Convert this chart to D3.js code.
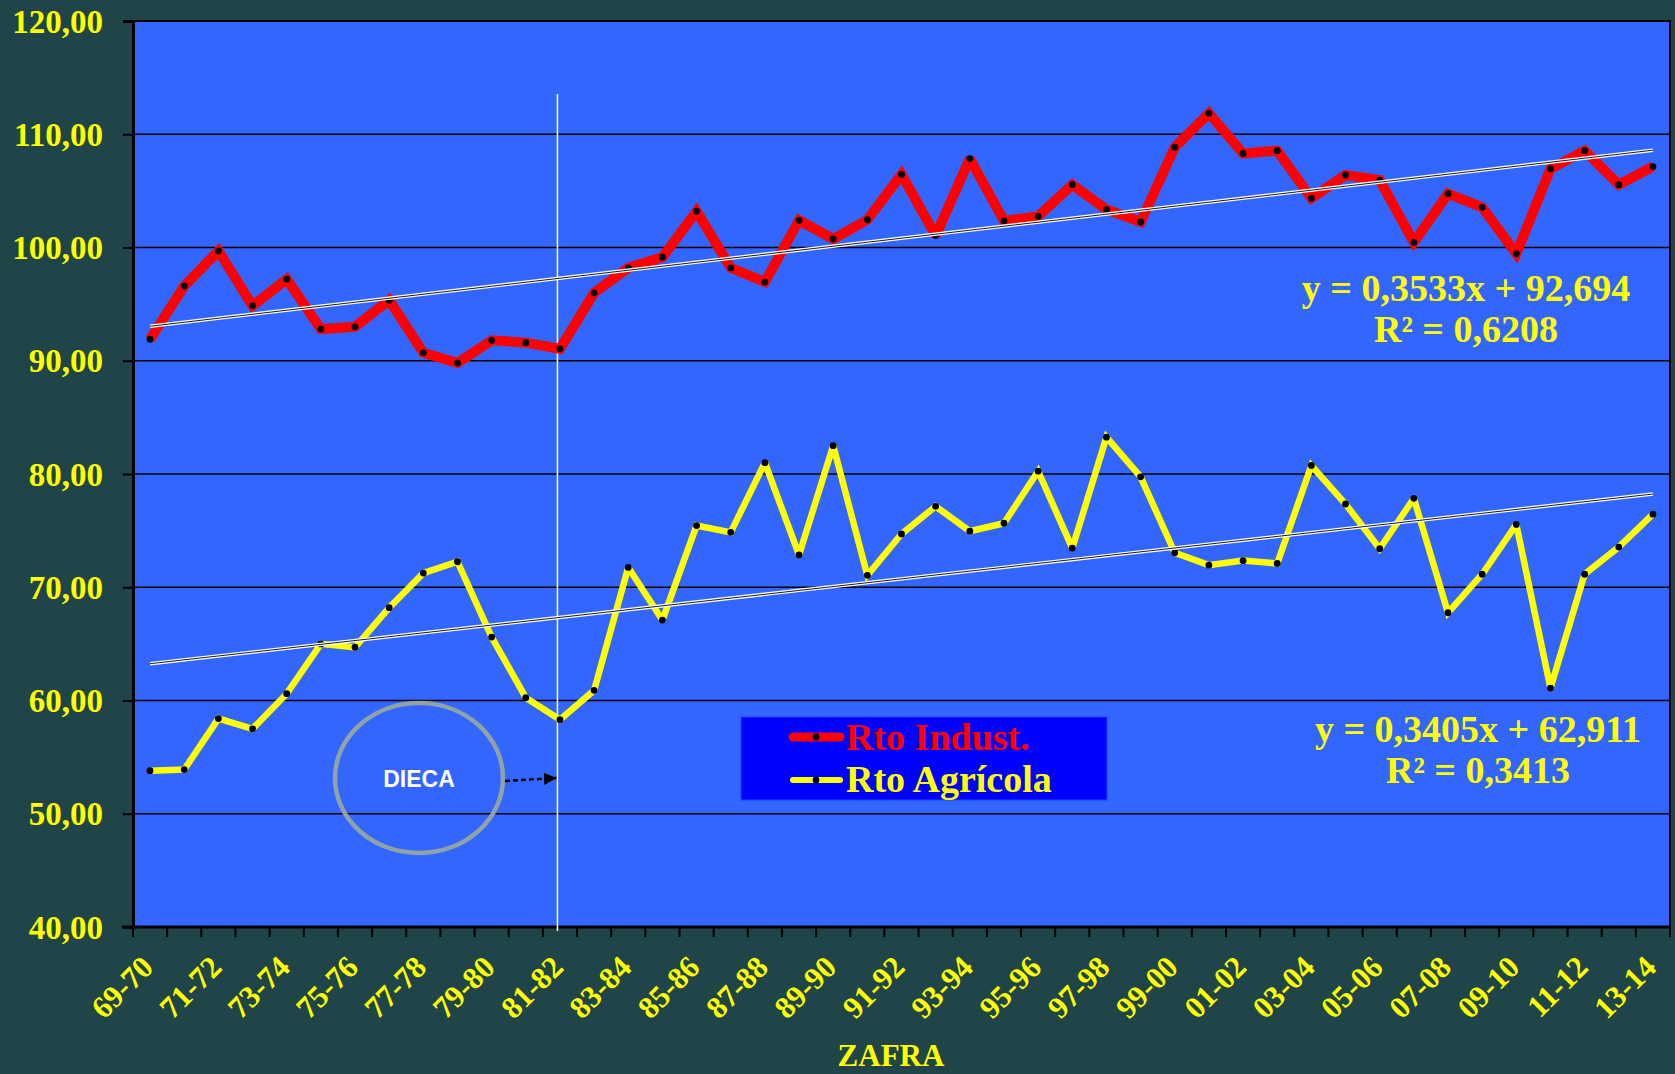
<!DOCTYPE html>
<html>
<head>
<meta charset="utf-8">
<script src="https://cdn.jsdelivr.net/npm/d3@7"></script>
<style>
  html, body { margin: 0; padding: 0; background: #1f4548; }
  svg { display: block; }
</style>
</head>
<body>
<svg id="chart" width="1675" height="1074"></svg>
<script>
// ---------------- DATA ----------------
const categories = ["69-70","70-71","71-72","72-73","73-74","74-75","75-76","76-77","77-78","78-79",
  "79-80","80-81","81-82","82-83","83-84","84-85","85-86","86-87","87-88","88-89",
  "89-90","90-91","91-92","92-93","93-94","94-95","95-96","96-97","97-98","98-99",
  "99-00","00-01","01-02","02-03","03-04","04-05","05-06","06-07","07-08","08-09",
  "09-10","10-11","11-12","12-13","13-14"];

const rtoIndust = [91.9,96.6,99.7,94.85,97.2,92.8,93.0,95.35,90.7,89.8,
  91.8,91.6,91.05,96.0,98.2,99.15,103.2,98.2,96.95,102.4,
  100.75,102.45,106.45,101.05,107.85,102.35,102.75,105.55,103.35,102.25,
  108.85,111.85,108.3,108.55,104.35,106.4,105.95,100.45,104.75,103.55,
  99.45,106.95,108.55,105.55,107.15];

const rtoAgricola = [53.8,53.9,58.4,57.5,60.6,65.0,64.7,68.2,71.25,72.25,
  65.6,60.25,58.3,60.9,71.75,67.1,75.45,74.85,81.0,72.85,
  82.5,71.05,74.7,77.15,74.95,75.65,80.25,73.45,83.25,79.75,
  73.05,71.95,72.35,72.1,80.75,77.35,73.4,77.85,67.75,71.15,
  75.55,61.1,71.15,73.55,76.45];

const seriesNames = ["Rto Indust.", "Rto Agrícola"];
const trendSlopes = [0.3533, 0.3405];
const trendIntercepts = [92.694, 62.911];
const trendEquations = ["y = 0,3533x + 92,694", "y = 0,3405x + 62,911"];
const trendR2 = ["R² = 0,6208", "R² = 0,3413"];
const yTicks = [40, 50, 60, 70, 80, 90, 100, 110, 120];
const xAxisTitle = "ZAFRA";
const annotationText = "DIECA";
const markedCategory = "81-82";

// ---------------- LAYOUT ----------------
const W = 1675, H = 1074;
const plot = { left: 133, right: 1670, top: 21, bottom: 927 };
const serif = "'Liberation Serif','Times New Roman',serif";
const sans = "'Liberation Sans',Arial,sans-serif";
const colors = { bg: "#1f4548", plot: "#3366ff", red: "#ff0000", yellow: "#ffff00", legend: "#0000ff" };

const svg = d3.select("#chart");
svg.append("rect").attr("width", W).attr("height", H).attr("fill", colors.bg);

const x = d3.scaleBand().domain(categories).range([plot.left, plot.right]).padding(0);
const cx = c => x(c) + x.bandwidth() / 2;
const y = d3.scaleLinear().domain([40, 120]).range([plot.bottom, plot.top]);

// plot background
svg.append("rect")
  .attr("x", plot.left).attr("y", plot.top)
  .attr("width", plot.right - plot.left).attr("height", plot.bottom - plot.top)
  .attr("fill", colors.plot).attr("stroke", "#000").attr("stroke-width", 2);

// gridlines
svg.append("g").selectAll("line").data(yTicks.filter(d => d > 40 && d < 120)).join("line")
  .attr("x1", plot.left).attr("x2", plot.right)
  .attr("y1", d => y(d)).attr("y2", d => y(d))
  .attr("stroke", "#000").attr("stroke-width", 1.5);

// y axis
const yAxis = d3.axisLeft(y).tickValues(yTicks).tickSize(10).tickPadding(20)
  .tickFormat(d => d.toFixed(2).replace(".", ","));
const gy = svg.append("g").attr("transform", `translate(${plot.left},0)`).call(yAxis);
gy.select(".domain").attr("stroke", "#000").attr("stroke-width", 3);
gy.selectAll(".tick line").attr("stroke", "#000").attr("stroke-width", 2);
gy.selectAll(".tick text")
  .attr("fill", colors.yellow).attr("font-family", serif).attr("font-weight", "bold")
  .attr("font-size", 33).attr("dy", "0.34em");

// x axis line & ticks (between categories)
const tickPos = categories.map(c => x(c)).concat([x.range()[1]]);
svg.append("line").attr("x1", plot.left - 11).attr("x2", plot.right)
  .attr("y1", plot.bottom).attr("y2", plot.bottom)
  .attr("stroke", "#000").attr("stroke-width", 3);
svg.append("g").selectAll("line").data(tickPos).join("line")
  .attr("x1", d => d).attr("x2", d => d)
  .attr("y1", plot.bottom).attr("y2", plot.bottom + 10)
  .attr("stroke", "#000").attr("stroke-width", 2);

// x labels (every other category)
svg.append("g").selectAll("text").data(categories.filter((c, i) => i % 2 === 0)).join("text")
  .attr("transform", c => `translate(${cx(c) + 5},${plot.bottom + 42}) rotate(-45)`)
  .attr("text-anchor", "end")
  .attr("fill", colors.yellow).attr("font-family", serif).attr("font-weight", "bold")
  .attr("font-size", 31)
  .text(c => c);

// x axis title
svg.append("text").attr("x", 891).attr("y", 1066).attr("text-anchor", "middle")
  .attr("fill", colors.yellow).attr("font-family", serif).attr("font-weight", "bold")
  .attr("font-size", 31).text(xAxisTitle);

// vertical white marker line at 81-82
const vx = cx(markedCategory) - 2.5;
svg.append("line").attr("x1", vx).attr("x2", vx).attr("y1", 94).attr("y2", plot.bottom + 4)
  .attr("stroke", "#ffffff").attr("stroke-width", 1.5);

// series
const line = d3.line().x((d, i) => cx(categories[i])).y(d => y(d));
const series = [
  { name: seriesNames[0], values: rtoIndust, color: colors.red, width: 10 },
  { name: seriesNames[1], values: rtoAgricola, color: colors.yellow, width: 6.5 }
];
series.forEach(s => {
  svg.append("path").datum(s.values).attr("d", line)
    .attr("fill", "none").attr("stroke", s.color).attr("stroke-width", s.width)
    .attr("stroke-linejoin", "miter").attr("stroke-miterlimit", 2.2);
  svg.append("g").selectAll("circle").data(s.values).join("circle")
    .attr("cx", (d, i) => cx(categories[i])).attr("cy", d => y(d))
    .attr("r", 3.4).attr("fill", "#000");
});

// trendlines (double line: white with black core)
trendSlopes.forEach((m, k) => {
  const b = trendIntercepts[k];
  const n = categories.length;
  const pts = [[cx(categories[0]), y(m * 1 + b)], [cx(categories[n - 1]), y(m * n + b)]];
  svg.append("line").attr("x1", pts[0][0]).attr("y1", pts[0][1]).attr("x2", pts[1][0]).attr("y2", pts[1][1])
    .attr("stroke", "#ffffff").attr("stroke-width", 3.5);
  svg.append("line").attr("x1", pts[0][0]).attr("y1", pts[0][1]).attr("x2", pts[1][0]).attr("y2", pts[1][1])
    .attr("stroke", "#1a1a1a").attr("stroke-width", 1);
});

// trend equations
const eqPos = [
  { x: 1466, y1: 301, y2: 342 },
  { x: 1478, y1: 742, y2: 783 }
];
eqPos.forEach((p, k) => {
  const t = svg.append("text").attr("text-anchor", "middle")
    .attr("fill", colors.yellow).attr("font-family", serif).attr("font-weight", "bold").attr("font-size", 38);
  t.append("tspan").attr("x", p.x).attr("y", p.y1).text(trendEquations[k]);
  t.append("tspan").attr("x", p.x).attr("y", p.y2).text(trendR2[k]);
});

// legend
const lg = svg.append("g");
lg.append("rect").attr("x", 741).attr("y", 717).attr("width", 366).attr("height", 83)
  .attr("fill", colors.legend).attr("stroke", "#2a3cff").attr("stroke-width", 1);
const legendRows = [
  { name: seriesNames[0], color: colors.red, width: 9, ly: 737, ty: 750 },
  { name: seriesNames[1], color: colors.yellow, width: 6, ly: 780, ty: 792 }
];
legendRows.forEach(r => {
  lg.append("line").attr("x1", 793).attr("x2", 840).attr("y1", r.ly).attr("y2", r.ly)
    .attr("stroke", r.color).attr("stroke-width", r.width).attr("stroke-linecap", "round");
  lg.append("circle").attr("cx", 816).attr("cy", r.ly).attr("r", 3.4).attr("fill", "#000");
  lg.append("text").attr("x", 846).attr("y", r.ty)
    .attr("fill", r.color).attr("font-family", serif).attr("font-weight", "bold").attr("font-size", 38)
    .text(r.name);
});

// DIECA annotation
svg.append("ellipse").attr("cx", 419).attr("cy", 778).attr("rx", 84).attr("ry", 75)
  .attr("fill", "none").attr("stroke", "#8fa3a6").attr("stroke-width", 4.5);
svg.append("text").attr("x", 419).attr("y", 787).attr("text-anchor", "middle")
  .attr("fill", "#ffffff").attr("font-family", sans).attr("font-weight", "bold").attr("font-size", 23)
  .text(annotationText);
svg.append("defs").append("marker").attr("id", "arrow")
  .attr("viewBox", "0 0 10 10").attr("refX", 10).attr("refY", 5)
  .attr("markerWidth", 5).attr("markerHeight", 5).attr("orient", "auto")
  .append("path").attr("d", "M0,0 L10,5 L0,10 Z").attr("fill", "#000");
svg.append("line").attr("x1", 505).attr("y1", 781).attr("x2", vx - 1).attr("y2", 778)
  .attr("stroke", "#000").attr("stroke-width", 2.5).attr("stroke-dasharray", "5,3")
  .attr("marker-end", "url(#arrow)");
</script>
</body>
</html>
